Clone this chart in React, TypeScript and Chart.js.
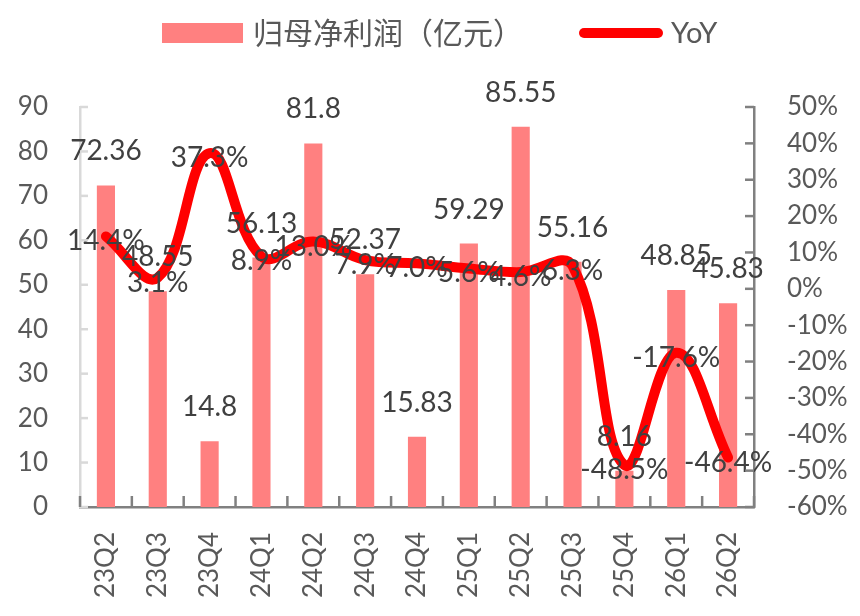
import React, { useEffect, useRef } from "react";
import { Chart, registerables } from "chart.js";

Chart.register(...registerables);

const quarters = ["23Q2", "23Q3", "23Q4", "24Q1", "24Q2", "24Q3", "24Q4", "25Q1", "25Q2", "25Q3", "25Q4", "26Q1", "26Q2"];
const netProfit = [72.36, 48.55, 14.8, 56.13, 81.8, 52.37, 15.83, 59.29, 85.55, 55.16, 8.16, 48.85, 45.83];
const yoyPct = [14.4, 3.1, 37.3, 8.9, 13.0, 7.9, 7.0, 5.6, 4.6, 6.3, -48.5, -17.6, -46.4];
const profitName = "归母净利润（亿元）";
const yoyName = "YoY";

const FONT = "Lato, 'Noto Sans CJK SC', sans-serif";

// inner tick marks on the three axes (Excel style)
const innerTicks = {
    id: "innerTicks",
    afterDraw(chart: any) {
        const { ctx, chartArea, scales } = chart;
        ctx.save();
        ctx.lineWidth = 2.5;

        ctx.strokeStyle = "#d9d9d9";
        scales.y.ticks.forEach((t: any) => {
            const py = scales.y.getPixelForValue(t.value);
            ctx.beginPath();
            ctx.moveTo(chartArea.left, py);
            ctx.lineTo(chartArea.left + 8, py);
            ctx.stroke();
        });

        ctx.strokeStyle = "#808080";
        scales.y1.ticks.forEach((t: any) => {
            const py = scales.y1.getPixelForValue(t.value);
            ctx.beginPath();
            ctx.moveTo(chartArea.right, py);
            ctx.lineTo(chartArea.right - 9, py);
            ctx.stroke();
        });

        const xs = scales.x;
        const n = quarters.length;
        for (let k = 0; k <= n; k++) {
            let px;
            if (k === 0) px = chartArea.left;
            else if (k === n) px = chartArea.right;
            else px = (xs.getPixelForValue(k - 1) + xs.getPixelForValue(k)) / 2;
            ctx.beginPath();
            ctx.moveTo(px, chartArea.bottom);
            ctx.lineTo(px, chartArea.bottom - 11);
            ctx.stroke();
        }
        ctx.restore();
    }
};

const valueLabels = {
    id: "valueLabels",
    afterDatasetsDraw(chart: any) {
        const ctx = chart.ctx;
        ctx.save();
        ctx.font = "28px " + FONT;
        ctx.fillStyle = "#404040";
        ctx.textAlign = "center";
        ctx.textBaseline = "middle";
        chart.getDatasetMeta(0).data.forEach((el: any, i: number) => {
            ctx.fillText(String(netProfit[i]), el.x, el.y - 34);
        });
        chart.getDatasetMeta(1).data.forEach((el: any, i: number) => {
            ctx.fillText(yoyPct[i].toFixed(1) + "%", el.x, el.y + 5);
        });
        ctx.restore();
    }
};

const topLegend = {
    id: "topLegend",
    afterDraw(chart: any) {
        const ctx = chart.ctx;
        ctx.save();
        ctx.fillStyle = "#FF8080";
        ctx.fillRect(162, 23, 81, 20);
        ctx.fillStyle = "#595959";
        ctx.textBaseline = "middle";
        ctx.textAlign = "left";
        ctx.font = "30px 'Noto Sans CJK SC', " + FONT;
        ctx.fillText(profitName, 253, 33);

        ctx.strokeStyle = "#FF0000";
        ctx.lineWidth = 10;
        ctx.lineCap = "round";
        ctx.beginPath();
        ctx.moveTo(584, 33);
        ctx.lineTo(658, 33);
        ctx.stroke();
        ctx.font = "29px " + FONT;
        ctx.fillText(yoyName, 671, 34);
        ctx.restore();
    }
};

const App = () => {
    const canvasRef = useRef<HTMLCanvasElement | null>(null);
    const chartInstance = useRef<Chart | null>(null);

    useEffect(() => {
        if (!canvasRef.current) return;
        const ctx = canvasRef.current.getContext("2d");
        if (!ctx) return;
        if (chartInstance.current) chartInstance.current.destroy();

        chartInstance.current = new Chart(ctx, {
            type: "bar",
            data: {
                labels: quarters,
                datasets: [
                    {
                        type: "bar",
                        label: profitName,
                        data: netProfit,
                        backgroundColor: "#FF8080",
                        yAxisID: "y",
                        barPercentage: 0.35,
                        categoryPercentage: 1,
                        order: 1
                    },
                    {
                        type: "line",
                        label: yoyName,
                        data: yoyPct,
                        borderColor: "#FF0000",
                        backgroundColor: "#FF0000",
                        borderWidth: 10,
                        borderCapStyle: "round",
                        borderJoinStyle: "round",
                        tension: 0.4,
                        pointRadius: 0,
                        yAxisID: "y1",
                        order: 0
                    }
                ]
            } as any,
            options: {
                responsive: false,
                animation: false,
                layout: { padding: { top: 107, left: 0, right: 0, bottom: 0 } },
                plugins: {
                    legend: { display: false },
                    tooltip: { enabled: false }
                },
                scales: {
                    x: {
                        grid: { display: false, drawTicks: false },
                        border: { display: true, color: "#808080", width: 2.5 },
                        ticks: {
                            color: "#595959",
                            font: { family: FONT, size: 26 },
                            minRotation: 90,
                            maxRotation: 90,
                            padding: 25,
                            autoSkip: false
                        },
                        afterFit: (s: any) => { s.height = 109; }
                    },
                    y: {
                        position: "left",
                        min: 0,
                        max: 90,
                        grid: { display: false, drawTicks: false },
                        border: { display: true, color: "#d9d9d9", width: 2.5 },
                        ticks: {
                            stepSize: 10,
                            color: "#595959",
                            font: { family: FONT, size: 26 },
                            padding: 32
                        },
                        afterFit: (s: any) => { s.width = 80; }
                    },
                    y1: {
                        position: "right",
                        min: -60,
                        max: 50,
                        grid: { display: false, drawTicks: false },
                        border: { display: true, color: "#808080", width: 2.5 },
                        ticks: {
                            stepSize: 10,
                            color: "#595959",
                            font: { family: FONT, size: 26 },
                            padding: 33,
                            callback: (v: any) => v + "%"
                        },
                        afterFit: (s: any) => { s.width = 106; }
                    }
                }
            } as any,
            plugins: [innerTicks, valueLabels, topLegend]
        });

        return () => {
            if (chartInstance.current) {
                chartInstance.current.destroy();
                chartInstance.current = null;
            }
        };
    }, []);

    return (
        <div style={{ position: "absolute", left: 0, top: 0, width: 860, height: 616, background: "#fff" }}>
            <canvas ref={canvasRef} width={860} height={616} />
        </div>
    );
};

export default App;
